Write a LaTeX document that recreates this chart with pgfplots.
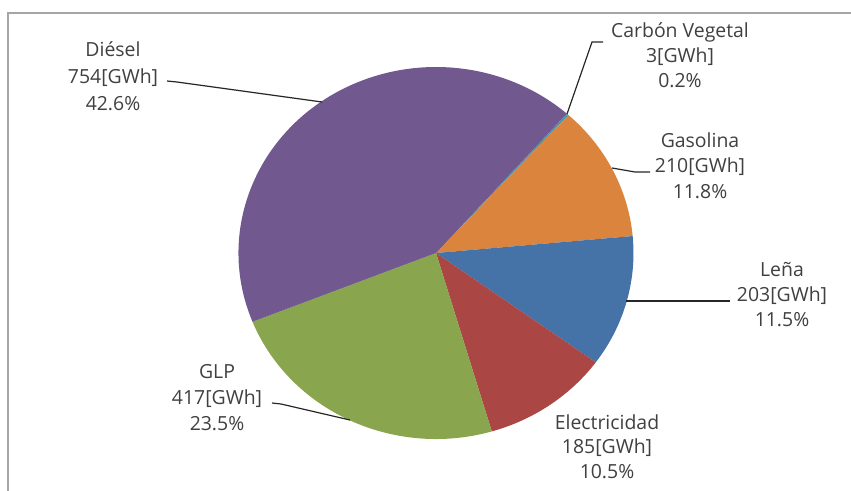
\documentclass[border=0pt]{standalone}
\usepackage{fontspec}
\setmainfont{Open Sans}
\usepackage{pgfplots}
\usepackage{pgfplotstable}
\pgfplotsset{compat=1.18}

\definecolor{cCarbon}{HTML}{4198AF}
\definecolor{cGas}{HTML}{DB843D}
\definecolor{cLena}{HTML}{4572A7}
\definecolor{cElec}{HTML}{AA4643}
\definecolor{cGLP}{HTML}{89A54E}
\definecolor{cDiesel}{HTML}{71588F}
\definecolor{labeltext}{HTML}{404040}
\definecolor{framegray}{HTML}{A6A6A6}

\tikzset{lab/.style={anchor=base, inner sep=0pt, text=labeltext,
    font=\fontsize{19.5}{24}\selectfont}}

% slices in clockwise order, starting at the top right
\pgfplotstableread[col sep=comma]{
name,value,color
Carbon,3,cCarbon
Gasolina,210,cGas
Lena,203,cLena
Electricidad,185,cElec
GLP,417,cGLP
Diesel,754,cDiesel
}\piedata

% pie centre and radii (picture units = bp, y downwards)
\def\cx{436}
\def\cy{253}
\def\rx{197.5}
\def\ry{186}
\def\startangle{48.5}

% one label = three centred lines, first baseline at #2
\newcommand\lbl[6]{%
  \node[lab] at (axis cs:#1,#2) {#4};
  \node[lab] at (axis cs:#1,#2+#3) {#5};
  \node[lab] at (axis cs:#1,#2+2*#3) {#6};
}

\begin{document}
\begin{tikzpicture}
% cumulative angles from the table
\pgfplotstablegetrowsof{\piedata}
\pgfmathtruncatemacro\lastrow{\pgfplotsretval-1}
\def\total{0}
\pgfplotsforeachungrouped \i in {0,...,\lastrow}{%
  \pgfplotstablegetelem{\i}{value}\of\piedata
  \pgfmathsetmacro\total{\total+\pgfplotsretval}}
\let\cur\startangle
\pgfplotsforeachungrouped \i in {0,...,\lastrow}{%
  \pgfplotstablegetelem{\i}{value}\of\piedata
  \pgfmathsetmacro\nxt{\cur-360*(\pgfplotsretval/\total)}
  \expandafter\xdef\csname start\i\endcsname{\cur}
  \expandafter\xdef\csname stop\i\endcsname{\nxt}
  \pgfplotstablegetelem{\i}{color}\of\piedata
  \expandafter\xdef\csname col\i\endcsname{\pgfplotsretval}
  \let\cur\nxt}

\begin{axis}[
    scale only axis,
    width=851bp,
    height=491bp,
    xmin=0, xmax=851,
    ymin=0, ymax=491,
    y dir=reverse,
    hide axis,
    clip=false,
]
\coordinate (tl) at (axis cs:0,0);
\coordinate (br) at (axis cs:851,491);

% frame
\draw[framegray, line width=2bp] (axis cs:8,491) -- (axis cs:8,13) -- (axis cs:851,13);

% slices
\pgfplotsforeachungrouped \i in {0,...,\lastrow}{%
  \edef\slice{\noexpand\fill[\csname col\i\endcsname] (axis cs:\cx,\cy)
    -- ++(\csname start\i\endcsname:\rx bp and \ry bp)
    arc[start angle=\csname start\i\endcsname, end angle=\csname stop\i\endcsname,
        x radius=\rx bp, y radius=\ry bp] -- cycle;}%
  \slice}

% leader lines
\draw[black!85, line width=1.2bp] (axis cs:567,114) -- (axis cs:592,42) -- (axis cs:603,42);
\draw[black!85, line width=1.2bp] (axis cs:612,168) -- (axis cs:635,172) -- (axis cs:650,172);
\draw[black!85, line width=1.2bp] (axis cs:626,301) -- (axis cs:730,301);
\draw[black!85, line width=1.2bp] (axis cs:350,420) -- (axis cs:281,404) -- (axis cs:272,403);
\draw[black!85, line width=1.2bp] (axis cs:322,102) -- (axis cs:177,82) -- (axis cs:167,81);

% labels
\lbl{113}{57}{26.5}{Diésel}{754[GWh]}{42.6\%}
\lbl{680}{38}{25}{Carbón Vegetal}{3[GWh]}{0.2\%}
\lbl{700}{147}{25.5}{Gasolina}{210[GWh]}{11.8\%}
\lbl{782}{276}{25}{Leña}{203[GWh]}{11.5\%}
\lbl{607}{429}{24.5}{Electricidad}{185[GWh]}{10.5\%}
\lbl{217}{378}{26}{GLP}{417[GWh]}{23.5\%}
\end{axis}
\pgfresetboundingbox
\path[use as bounding box] (tl) rectangle (br);
\end{tikzpicture}
\end{document}
